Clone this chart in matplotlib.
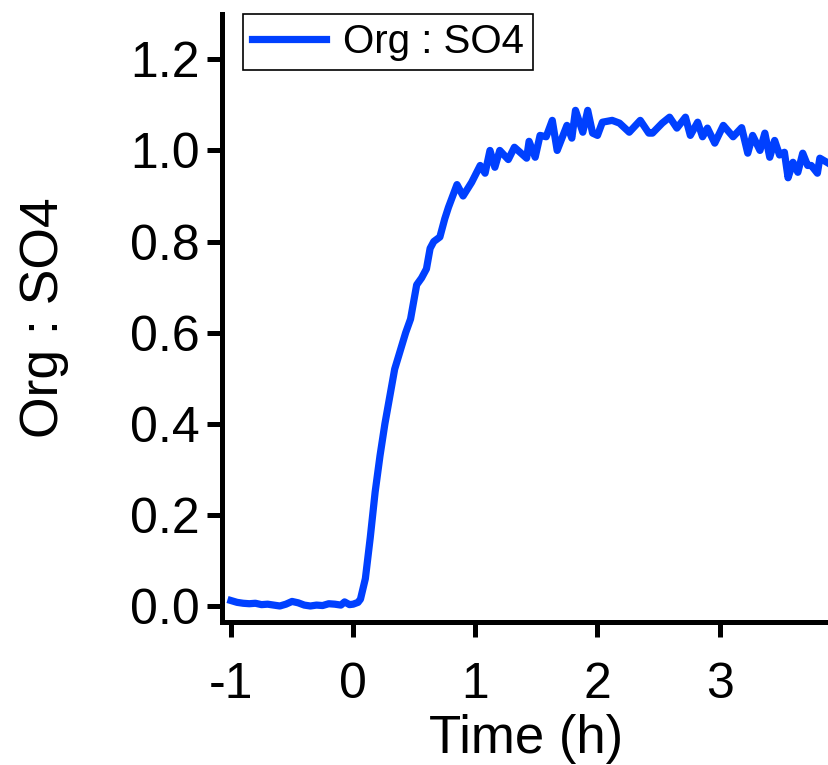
import numpy as np
import matplotlib
matplotlib.use("Agg")
import matplotlib.pyplot as plt

plt.rcParams['font.family'] = ['Liberation Sans', 'DejaVu Sans']

# time (h) relative to start, Org : SO4 ratio
time_h = [-1.00, -0.95, -0.90, -0.85, -0.80, -0.75, -0.70, -0.65, -0.60, -0.55,
          -0.50, -0.45, -0.40, -0.35, -0.30, -0.25, -0.20, -0.15, -0.10, -0.07,
          -0.03, 0.00, 0.04, 0.06, 0.10, 0.14, 0.18, 0.22, 0.26, 0.30,
          0.34, 0.385, 0.43, 0.47, 0.52, 0.56, 0.60, 0.63, 0.66, 0.71,
          0.75, 0.78, 0.85, 0.90, 0.97, 1.04, 1.08, 1.12, 1.16, 1.20,
          1.27, 1.32, 1.42, 1.44, 1.49, 1.53, 1.58, 1.63, 1.67, 1.75,
          1.79, 1.82, 1.88, 1.92, 1.96, 2.00, 2.04, 2.12, 2.18, 2.26,
          2.35, 2.42, 2.45, 2.53, 2.59, 2.65, 2.72, 2.76, 2.82, 2.86,
          2.90, 2.96, 3.03, 3.11, 3.18, 3.23, 3.27, 3.33, 3.37, 3.41,
          3.45, 3.49, 3.53, 3.56, 3.60, 3.64, 3.68, 3.72, 3.75, 3.80,
          3.82, 3.89, 3.93]
org_so4 = [0.012, 0.008, 0.006, 0.005, 0.006, 0.003, 0.004, 0.002, 0.000, 0.004,
           0.010, 0.007, 0.002, 0.000, 0.002, 0.001, 0.005, 0.004, 0.002, 0.009,
           0.003, 0.004, 0.008, 0.015, 0.06, 0.15, 0.25, 0.33, 0.40, 0.46,
           0.52, 0.56, 0.60, 0.63, 0.705, 0.72, 0.74, 0.785, 0.80, 0.81,
           0.85, 0.875, 0.925, 0.90, 0.93, 0.967, 0.95, 1.00, 0.963, 1.00,
           0.98, 1.007, 0.983, 1.02, 0.985, 1.033, 1.03, 1.066, 1.00, 1.055,
           1.027, 1.088, 1.04, 1.088, 1.038, 1.033, 1.062, 1.066, 1.06, 1.04,
           1.066, 1.038, 1.038, 1.06, 1.073, 1.049, 1.073, 1.033, 1.062, 1.03,
           1.049, 1.016, 1.055, 1.03, 1.05, 0.994, 1.033, 1.00, 1.038, 0.985,
           1.022, 0.99, 0.996, 0.94, 0.974, 0.952, 0.994, 0.967, 0.967, 0.95,
           0.983, 0.972, 0.965]

x_ticks = [-1, 0, 1, 2, 3]
y_ticks = [0.0, 0.2, 0.4, 0.6, 0.8, 1.0, 1.2]

fig = plt.figure(figsize=(8.29, 7.65), dpi=100)
ax = fig.add_axes([0.268, 0.187, 0.732, 0.795])

ax.plot(time_h, org_so4, color='#0040FF', lw=5.2, label='Org : SO4')

ax.set_xlim(-1.072, 3.895)
ax.set_ylim(-0.035, 1.3)
ax.set_xticks(x_ticks)
ax.set_xticklabels(['%d' % t for t in x_ticks])
ax.set_yticks(y_ticks)
ax.set_yticklabels(['%.1f' % v for v in y_ticks])

for s in ['top', 'right']:
    ax.spines[s].set_visible(False)
for s in ['left', 'bottom']:
    ax.spines[s].set_linewidth(3.6)

ax.tick_params(axis='both', direction='out', length=11, width=3.6, labelsize=36)
ax.tick_params(axis='y', pad=5)
ax.tick_params(axis='x', pad=18)

ax.set_xlabel('Time (h)', fontsize=38, labelpad=4)
ax.set_ylabel('Org : SO4', fontsize=38.5, labelpad=44)

leg = ax.legend(loc='upper left', bbox_to_anchor=(243/829, 1-14/765),
                bbox_transform=fig.transFigure, fontsize=29, frameon=True,
                fancybox=False, framealpha=1, borderpad=0.22, handlelength=1.85,
                handletextpad=0.42, borderaxespad=0)
leg.get_frame().set_edgecolor('black')
leg.get_frame().set_linewidth(1.2)

fig.savefig('out.png', dpi=100)
